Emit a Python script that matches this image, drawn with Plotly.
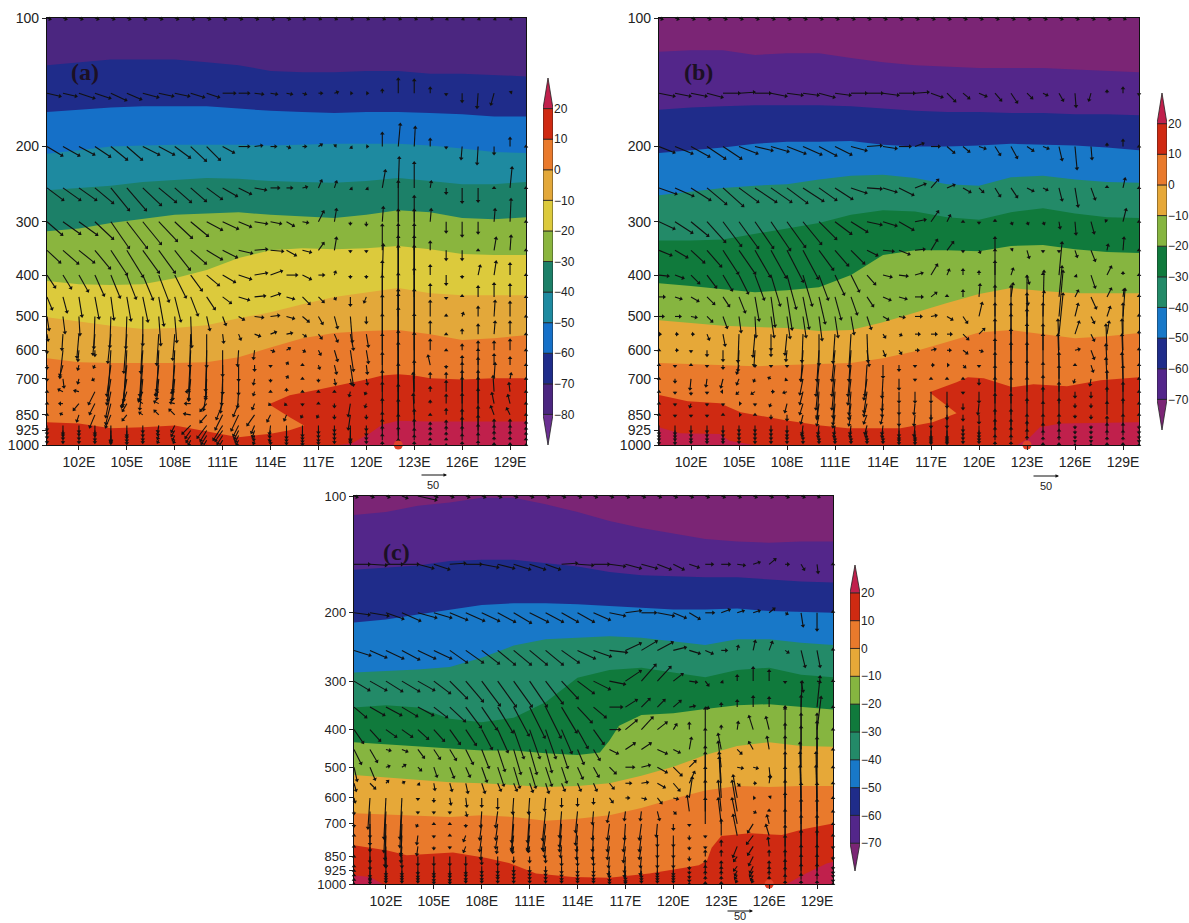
import math
import plotly.graph_objects as go

LEVELS = [100,150,200,250,300,350,400,450,500,550,600,650,700,750,800,850,900,925,950,975,1000]
COLS = list(range(100,131))
LON2 = [100,102,104,106,108,110,112,114,116,118,120,122,124,126,128,130]
XTICKS = [102,105,108,111,114,117,120,123,126,129]
YTICKS = [100,200,300,400,500,600,700,850,925,1000]

# ---- temperature band boundaries (hPa) ----
A_B = [
 (LON2,[129,127,125,125,125,127,129,133,134,134,133,133,135,135,136,137]),
 (LON2,[166,164,162,161,161,161,163,165,166,167,166,166,167,168,170,170]),
 (LON2,[208,204,200,199,198,198,198,199,198,197,197,197,199,202,206,207]),
 (LON2,[253,250,247,242,239,237,238,241,242,243,241,237,241,245,245,242]),
 (LON2,[316,311,302,296,289,287,285,289,291,294,289,282,285,294,296,293]),
 (LON2,[413,420,422,420,407,389,365,350,346,348,346,342,348,357,359,359]),
 (LON2,[502,513,526,535,532,524,505,489,468,450,439,429,441,446,446,446]),
 (LON2,[626,640,643,643,643,640,623,591,562,547,541,538,550,568,562,553]),
 ([100,102,104,106,108,110,112,114,115.2,116.1,115.2,113.9,115.2,117.1,118.9,120,121,122,123,124,126,128,130],
  [885,890,914,909,900,929,959,941,923,900,861,803,765,740,717,702,687,683,687,698,702,698,698]),
 ([118.3,119.1,120.2,121,122,124,126,128,130],[1000,990,940,895,877,881,881,881,881]),
]
B_B = [
 (LON2,[120,119,119,122,121,121,124,127,129,130,131,131,131,132,133,134]),
 (LON2,[164,162,161,160,160,160,161,163,165,166,166,167,167,168,168,169]),
 (LON2,[207,204,201,197,195,195,194,198,200,200,199,197,198,199,201,204]),
 (LON2,[260,255,250,247,245,239,234,233,237,245,247,236,234,239,242,243]),
 (LON2,[332,332,330,321,311,302,289,282,284,293,297,285,279,287,293,294]),
 (LON2,[418,424,432,439,434,427,400,359,350,350,352,342,340,348,353,355]),
 (LON2,[510,518,526,529,532,541,538,516,489,465,443,429,436,441,441,441]),
 (LON2,[643,647,650,654,650,647,643,626,603,574,545,538,550,562,556,547]),
 ([100,101.8,103.8,105.1,108,110.1,111.8,115.1,117.1,118.6,116.9,118.6,119.3,120.3,122.1,123.4,125.5,127.6,130],
  [764,790,798,838,876,900,914,914,885,843,752,713,694,698,732,721,728,705,694]),
 ([122.4,123.2,123.8,125.1,130],[1000,958,909,890,885]),
 ([100,101.3,103.8,104.4,105.9],[909,938,943,978,1000]),
]
C_B = [
 (LON2,[112,110,106,104,101,101,105,110,116,121,125,129,131,132,131,131]),
 (LON2,[155,153,151,147,146,146,149,152,157,160,161,162,162,164,166,167]),
 (LON2,[212,208,202,196,191,189,189,190,192,194,196,196,195,198,199,200]),
 (LON2,[285,283,280,276,261,243,234,232,230,232,237,242,234,234,239,242]),
 (LON2,[351,346,351,375,383,373,340,294,281,277,285,293,281,277,289,293]),
 ([100,102,104,106,108,110,112,114,115.4,116,116.6,118,120,122,124,126,128,130],
  [431,436,441,448,453,453,460,465,458,427,391,367,363,354,346,344,350,355]),
 (LON2,[524,532,541,547,550,556,562,559,550,526,499,465,441,431,441,443]),
 (LON2,[657,661,665,672,665,672,687,679,665,637,603,574,559,562,559,559]),
 ([100,102.1,103.3,105.2,106.2,108.3,109.8,111.4,113.7,116,118.5,120.6,121.6,122.1,122.4,123,124.8,126.8,128.2,130],
  [794,820,843,834,829,857,885,939,959,964,939,909,895,871,807,752,740,748,721,698]),
 ([127.1,128.3,129.6,130],[1000,939,885,876]),
 ([100,101,101.8],[949,959,1000]),
]
A_COL = ['#4b2680','#1f2c8a','#1570c8','#1e8aa0','#1c8068','#8ab53e','#dcca3c','#e3a83a','#e97a2c','#cf2a12','#c0204c']
BC_COL = ['#7b2575','#53268a','#1f2c8a','#1878c8','#238a68','#107a3c','#86b540','#e6a838','#e97a2c','#cf2a12','#c0204c','#c0204c']

# ---- wind vectors: units are 50/27 of the reference arrow's "50" ----
U_A = [
[3,3,3,3,3,3,3,3,3,3,3,3,3,3,3,3,2,2,2,2,2,2,2,2,2,1,1,1,1,1,1],
[13,13,15,15,15,14,15,14,14,13,12,12,10,8,6,5,3,3,3,1,1,0,0,0,0,0,0,-1,-3,1,1],
[15,16,15,15,16,15,16,15,15,15,13,11,10,7,5,3,3,3,1,1,1,0,2,1,0,0,-1,-1,0,0,0],
[16,17,17,18,18,19,18,17,16,15,15,14,12,11,8,5,4,3,2,1,1,3,1,0,1,0,0,0,0,2,0],
[15,17,18,18,18,20,18,18,17,17,15,15,12,12,10,7,5,5,2,0,0,1,0,0,1,0,0,0,1,1,0],
[13,15,15,15,16,16,16,16,15,15,15,14,13,12,12,9,8,5,2,0,0,0,0,0,0,0,0,0,2,1,0],
[8,8,9,9,9,9,10,10,11,11,12,12,12,12,11,10,8,5,1,0,0,1,0,0,0,0,0,2,2,0,0],
[5,4,3,4,3,4,5,5,6,7,8,8,10,10,9,7,7,5,1,0,-2,0,0,0,0,0,0,0,0,0,0],
[2,2,1,-1,-1,-1,0,2,2,1,3,3,5,8,8,7,6,4,3,2,0,0,0,0,0,0,1,0,1,0,0],
[1,-1,-2,-2,-3,-3,-2,-2,-2,-1,0,1,2,5,5,5,3,3,3,3,2,0,0,0,0,0,0,0,1,0,0],
[0,-3,-1,0,-3,-3,-3,-2,-2,-2,-1,0,-1,-1,3,3,2,2,3,3,2,0,0,0,0,0,0,0,0,0,0],
[0,-3,-1,-1,-4,-4,-3,-3,-3,-2,-1,0,0,0,0,1,0,1,2,3,1,0,0,0,-2,0,0,0,0,0,0],
[0,1,-1,-2,-4,-5,-3,-2,-2,-2,-1,-1,0,-1,0,1,0,0,1,1,1,0,0,0,0,0,0,0,1,1,0],
[0,-4,-4,-6,-5,-5,-4,-3,-3,-4,-3,-2,-1,-1,0,0,0,0,0,-1,-1,0,0,0,0,0,0,0,-1,-1,0],
[0,-3,-5,-5,-5,-4,-4,-4,-4,-5,-6,-6,-5,-2,-1,-1,0,0,0,-2,-1,0,0,-1,0,0,0,0,-2,-2,0],
[0,-2,-2,-5,-5,-4,-3,-4,-5,-6,-6,-7,-7,-7,-3,-2,-1,-1,0,-2,0,0,0,-1,0,0,0,0,-3,-3,0],
[0,0,0,0,0,0,0,-1,-3,-8,-9,-9,-5,-3,-1,0,0,0,0,0,0,0,0,0,0,0,0,0,0,0,0],
[0,0,0,0,0,0,0,-1,-3,-5,-6,-7,-4,-2,-1,0,0,0,0,0,0,0,0,0,0,0,0,0,0,0,0],
[0,0,0,0,0,0,0,-1,-2,-4,-5,-5,-3,-1,-1,0,0,0,0,0,0,0,0,0,0,0,0,0,0,0,0],
[0,0,0,0,0,0,0,-1,-1,-2,-3,-3,-2,-1,0,0,0,0,0,0,0,0,0,0,0,0,0,0,0,0,0],
[0,0,0,0,0,0,0,0,0,-1,-1,-1,-1,0,0,0,0,0,0,0,0,0,0,0,0,0,0,0,0,0,0],
]
W_A = [
[-1,-1,-1,-1,-1,-1,-1,-1,-1,-1,-1,-1,-1,-1,-1,-1,-1,-1,-1,-1,-1,-1,-1,-1,-1,-1,-1,-1,-1,-1,-1],
[-3,-3,-5,-5,-7,-6,-4,-3,-3,-4,-4,0,0,-1,-1,-1,-1,0,1,0,0,3,14,13,5,-1,-8,-14,-11,1,0],
[-9,-9,-8,-10,-13,-13,-8,-8,-11,-14,-13,-6,0,1,0,-1,0,2,1,-1,0,13,22,19,7,-1,-12,-17,-7,8,0],
[-12,-12,-12,-15,-22,-22,-17,-14,-14,-13,-11,-8,-6,-2,0,0,1,7,6,-1,-1,17,30,25,6,-5,-14,-13,0,20,0],
[-13,-12,-13,-17,-26,-26,-22,-19,-16,-14,-8,-7,-5,-2,-2,-4,-1,10,12,-2,-3,14,40,25,12,-10,-14,-11,12,22,0],
[-12,-13,-12,-18,-24,-26,-22,-22,-19,-13,-9,-7,-3,1,-1,-5,-2,7,12,-1,-1,25,40,40,8,-9,-9,0,12,14,0],
[-12,-13,-16,-20,-22,-23,-24,-26,-22,-15,-10,-7,-4,2,4,0,-4,0,3,-2,-2,30,50,50,9,-9,-2,9,13,11,0],
[-12,-15,-19,-21,-22,-23,-24,-28,-24,-18,-12,-6,-3,1,3,-2,-7,-5,-2,-8,-5,35,60,60,12,-1,1,10,13,12,0],
[-13,-16,-18,-31,-30,-31,-28,-28,-25,-30,-13,-8,-3,-1,1,-2,-5,-7,-11,-25,-6,40,70,70,15,1,3,9,15,14,0],
[-6,-15,-23,-20,-28,-38,-38,-30,-25,-32,-32,-8,-5,-2,2,1,-2,-4,-7,-15,-12,38,60,65,12,0,4,9,12,12,0],
[-2,-27,-10,-5,-50,-50,-45,-40,-40,-40,-40,-25,-15,-8,-1,2,-1,-4,-10,-20,-12,35,60,60,10,0,5,8,8,10,0],
[-3,-10,-4,-2,-30,-40,-35,-30,-35,-35,-32,-28,-15,-5,-1,2,0,-3,-8,-20,-8,30,70,50,9,-2,8,15,10,7,0],
[-1,-8,-4,-1,-25,-28,-30,-20,-20,-20,-20,-25,-15,-5,-2,2,0,-2,-5,-5,-5,25,70,45,5,5,15,20,15,5,0],
[0,2,1,-12,-25,-15,-8,-3,-1,0,-18,-20,-15,-3,0,2,0,0,0,-4,-2,20,60,30,4,10,20,20,15,8,0],
[0,0,-6,-10,-20,-7,3,2,1,0,-7,-15,-12,-5,-1,-1,-1,0,-3,-12,-3,20,60,30,2,8,25,25,10,8,0],
[0,1,-6,-12,-12,-5,2,4,5,1,-7,-14,-15,-10,-6,-5,-2,-2,-3,-14,-3,15,50,20,0,5,20,25,8,6,0],
[-4,-8,-6,-8,-16,-10,-6,-6,-6,-8,-12,-14,-10,-7,-8,-12,-10,-7,-5,-14,-4,12,40,15,2,4,15,18,5,5,3],
[-3,-5,-4,-5,-10,-7,-5,-4,-5,-7,-10,-10,-8,-6,-6,-10,-8,-6,-4,-10,-4,10,30,10,2,3,12,14,4,4,2],
[-2,-3,-3,-4,-6,-5,-4,-3,-4,-6,-8,-8,-6,-4,-5,-8,-6,-5,-3,-7,-3,8,20,6,2,2,8,10,3,3,2],
[-2,-2,-2,-2,-3,-3,-2,-2,-2,-4,-5,-5,-4,-3,-3,-5,-4,-3,-2,-5,-2,5,12,4,1,1,5,6,2,2,1],
[-1,-1,-1,-1,-1,-1,-1,-1,-1,-2,-2,-2,-2,-1,-1,-2,-2,-1,-1,-2,-1,2,5,2,0,0,2,3,1,1,0],
]
U_B = [
[3,3,3,3,3,3,3,3,3,3,3,3,3,3,3,3,3,3,3,3,3,3,3,3,3,3,3,3,3,2,2],
[15,15,15,15,16,15,15,15,15,15,15,15,15,15,15,15,13,11,8,6,7,6,6,5,4,4,1,-2,0,0,0],
[15,17,18,18,18,18,17,17,18,18,17,16,15,14,13,11,8,8,7,6,6,5,6,6,5,3,2,1,0,0,0],
[17,18,19,19,20,19,21,20,20,20,17,17,15,14,13,14,10,7,7,7,4,5,6,6,4,3,3,4,0,2,0],
[15,17,17,18,18,19,18,19,18,18,17,16,16,14,13,14,10,7,3,0,0,0,1,1,1,1,1,3,-1,3,0],
[12,12,13,14,15,16,15,15,16,15,14,13,13,10,10,10,9,6,6,0,1,0,1,2,0,0,2,4,1,1,0],
[9,8,8,9,9,9,9,9,9,9,9,9,8,8,8,8,7,6,2,0,0,0,2,2,0,3,1,4,4,0,0],
[5,6,7,7,6,6,4,4,5,6,6,6,6,6,7,7,7,5,0,0,1,0,2,1,1,3,3,5,4,1,0],
[4,5,5,5,4,2,1,3,3,3,3,3,3,4,5,5,6,5,5,4,3,0,0,0,1,4,3,3,3,2,0],
[1,2,2,2,2,-1,-2,0,-2,-1,0,-2,-2,1,2,2,4,5,4,5,5,0,0,0,0,4,4,3,2,0,0],
[0,2,0,0,0,-1,-1,0,-1,-2,-2,-3,-2,2,2,2,3,4,3,4,3,0,0,0,0,-1,4,3,-1,-1,0],
[0,0,0,0,0,-2,0,0,0,-2,-3,-3,-3,-2,0,0,0,2,1,2,0,0,0,0,0,-1,0,2,-1,-1,0],
[0,0,-1,-1,-2,-2,-1,-2,-1,-3,-3,-3,-3,-3,-1,0,0,0,0,0,0,0,0,0,0,0,-1,-1,-1,-1,0],
[0,0,0,0,-1,-2,-3,2,-3,-3,-2,-2,-2,-3,-1,0,0,0,0,0,0,0,0,0,0,0,0,0,0,0,0],
[0,0,-1,0,0,1,0,-1,-2,-3,-2,-2,-2,-3,-1,0,-1,0,0,0,-1,0,0,0,0,0,0,0,0,0,0],
[0,0,0,0,0,1,0,0,0,-2,-2,-2,-2,-3,-2,0,-1,0,0,0,0,0,0,0,0,0,0,0,0,0,0],
[0,0,0,0,0,0,0,0,0,-1,-1,-1,-1,-2,-1,0,-1,0,0,0,0,0,0,0,0,0,0,0,0,0,0],
[0,0,0,0,0,0,0,0,0,-1,-1,-1,-1,-1,-1,0,0,0,0,0,0,0,0,0,0,0,0,0,0,0,0],
[0,0,0,0,0,0,0,0,0,0,0,0,0,0,0,0,0,0,0,0,0,0,0,0,0,0,0,0,0,0,0],
[0,0,0,0,0,0,0,0,0,0,0,0,0,0,0,0,0,0,0,0,0,0,0,0,0,0,0,0,0,0,0],
[0,0,0,0,0,0,0,0,0,0,0,0,0,0,0,0,0,0,0,0,0,0,0,0,0,0,0,0,0,0,0],
]
W_B = [
[-1,-1,-1,-1,-1,-1,-1,-1,-1,-1,-1,-1,-1,-1,-1,-1,-1,-1,-1,-1,-1,-1,-1,-1,-1,-1,-1,-1,-1,-1,-1],
[-3,-3,-3,-4,0,1,0,-3,-2,-2,-4,-2,0,0,-2,0,1,-4,-8,-5,-3,-7,-9,-5,-2,-7,-13,-7,2,5,-1],
[-6,-7,-10,-12,-12,-7,-4,-5,-7,-8,-9,-8,-4,1,-2,0,3,0,-6,-5,-2,-8,-11,-4,-2,-13,-22,-12,2,6,0],
[-6,-8,-12,-16,-18,-14,-14,-14,-15,-13,-12,-11,-5,-1,-4,-7,4,8,3,-4,-4,-8,-9,-3,-2,-12,-18,-11,1,9,0],
[-7,-11,-14,-20,-24,-26,-26,-28,-25,-22,-17,-12,-10,-3,-4,-8,2,10,6,0,-1,1,-2,-2,-2,-6,-12,-11,1,12,0],
[-5,-7,-12,-16,-23,-23,-26,-27,-31,-28,-19,-15,-13,-5,-1,-4,1,10,8,-1,-2,0,1,-7,-1,-1,-6,-10,5,12,0],
[-1,-3,-8,-12,-15,-18,-24,-30,-33,-30,-24,-19,-16,-9,-2,-1,2,10,5,5,3,37,6,-8,1,32,-1,-12,8,2,0],
[0,-2,-4,-7,-9,-15,-23,-29,-32,-31,-26,-22,-17,-9,-3,-2,0,4,1,6,12,35,13,-7,5,30,6,-11,8,7,1],
[0,0,-1,-5,-11,-15,-20,-20,-21,-20,-23,-20,-17,-12,-3,-1,0,1,-3,-6,13,30,30,40,45,45,12,-6,9,27,1],
[0,0,0,-5,-11,-27,-22,-15,-20,-27,-30,-28,-32,-27,-3,-1,0,0,0,-5,5,30,30,40,30,40,12,-6,12,30,2],
[0,0,-1,-5,-10,-20,-15,-5,-10,-30,-30,-30,-30,-15,-5,-3,0,1,0,-3,-1,30,35,40,25,30,1,-8,25,30,1],
[0,-1,0,-1,-3,-8,-1,-1,-1,-15,-30,-30,-30,-30,-12,-5,-1,0,0,-2,-1,25,35,40,30,30,0,-6,20,30,0],
[0,-3,-10,-7,-8,-5,-2,1,-1,-15,-30,-30,-25,-20,-18,-10,-1,0,0,0,-5,25,35,35,15,25,-3,-6,20,25,0],
[0,-1,-2,-1,0,-2,-2,0,-1,-12,-25,-25,-22,-20,-18,-10,-10,-10,-15,-1,-10,25,30,30,15,25,-5,-5,20,25,0],
[0,-1,-3,-1,-1,0,-1,-2,-8,-10,-15,-20,-15,-12,-12,-10,-10,-15,-15,-5,-10,25,25,25,15,20,-3,-3,15,20,0],
[0,-1,-1,-1,0,0,0,-3,-5,-8,-10,-12,-10,-8,-8,-10,-10,-12,-12,-5,-8,20,20,15,12,15,-2,-3,12,15,0],
[-8,-8,-6,-6,-6,-5,-5,-5,-6,-8,-8,-8,-8,-8,-8,-10,-10,-12,-12,-5,-8,15,15,10,10,10,-2,-2,8,10,-2],
[-6,-6,-5,-5,-5,-4,-4,-4,-5,-5,-6,-6,-6,-6,-6,-8,-8,-9,-9,-4,-6,10,10,8,6,8,-2,-2,6,6,-2],
[-4,-4,-4,-4,-4,-3,-3,-3,-3,-3,-4,-4,-4,-4,-4,-5,-5,-6,-6,-3,-4,7,7,5,4,5,-2,-2,4,4,-2],
[-3,-3,-2,-2,-2,-2,-2,-2,-2,-2,-2,-2,-2,-2,-2,-3,-3,-3,-3,-2,-2,4,4,3,2,3,-1,-1,2,2,-1],
[-1,-1,-1,-1,-1,-1,-1,-1,-1,-1,-1,-1,-1,-1,-1,-1,-1,-1,-1,-1,-1,2,2,1,1,1,0,0,1,1,0],
]
U_C = [
[3,3,3,5,18,3,3,3,3,3,3,3,3,3,3,3,3,3,3,3,3,3,3,3,3,3,3,3,3,2,2],
[15,16,16,16,15,15,15,15,16,16,16,15,14,15,15,15,15,15,15,13,10,9,7,8,7,6,6,3,3,1,0],
[15,18,17,18,18,17,17,18,17,17,17,18,17,16,16,16,15,15,14,16,12,10,8,8,6,6,5,2,2,0,0],
[16,16,17,17,17,17,17,17,17,17,17,17,17,17,17,17,17,15,15,15,12,10,7,5,1,2,3,3,4,3,0],
[15,16,16,17,16,16,17,17,18,18,18,17,17,16,16,16,15,15,14,13,9,7,3,1,0,0,0,0,2,3,0],
[12,14,15,15,15,13,15,15,15,15,15,15,15,15,14,12,12,11,8,7,7,5,3,0,0,0,0,0,1,3,0],
[9,10,10,10,10,10,10,10,10,10,10,10,10,10,10,10,10,11,11,9,3,0,0,0,1,-4,-3,0,0,4,0],
[7,7,4,5,6,6,6,7,7,7,7,7,6,6,6,6,8,9,9,9,6,2,0,-3,4,-4,-2,0,0,0,0],
[3,5,3,3,3,3,4,4,5,6,6,6,6,5,5,5,6,8,8,9,8,6,0,-3,5,4,1,0,0,0,0],
[2,5,2,2,1,1,2,2,3,3,3,3,3,3,3,3,4,5,6,7,6,5,0,-2,2,2,1,0,-1,0,0],
[1,-2,-2,-2,0,0,1,1,0,0,-1,-1,-1,0,0,0,3,3,4,4,4,3,0,-2,-4,1,1,0,-1,-1,0],
[0,0,-2,-2,0,0,0,1,-1,-2,-2,-2,-3,-2,-2,-1,-2,-1,-1,2,2,-2,0,-3,-5,2,0,0,-1,-1,0],
[0,0,-1,-1,-1,0,0,0,-2,-2,-2,-2,-3,-2,-2,-1,-2,-1,-2,-1,0,0,0,-3,-5,-5,-2,0,0,0,0],
[0,0,-1,-1,-1,0,0,-2,-2,-2,-2,-2,-2,-2,-1,-1,-2,-2,-2,0,0,0,0,0,-4,-6,-3,0,0,0,0],
[0,0,0,-1,-1,0,0,-2,-1,-1,-1,-1,-1,-1,-1,-1,-2,-2,-2,0,0,0,0,0,-4,-5,-1,0,0,0,0],
[0,0,0,0,0,0,0,0,0,0,0,0,0,0,0,0,-1,-1,-1,0,0,0,0,0,-3,-4,0,0,0,0,0],
[0,0,0,0,0,0,0,0,0,0,0,0,0,0,0,0,-1,-1,-1,0,0,0,0,0,-3,-3,0,0,0,0,0],
[0,0,0,0,0,0,0,0,0,0,0,0,0,0,0,0,0,0,0,0,0,0,0,0,-2,-3,0,0,0,0,0],
[0,0,0,0,0,0,0,0,0,0,0,0,0,0,0,0,0,0,0,0,0,0,0,0,-2,-2,0,0,0,0,0],
[0,0,0,0,0,0,0,0,0,0,0,0,0,0,0,0,0,0,0,0,0,0,0,0,-1,-1,0,0,0,0,0],
[0,0,0,0,0,0,0,0,0,0,0,0,0,0,0,0,0,0,0,0,0,0,0,0,0,0,0,0,0,0,0],
]
W_C = [
[-1,-1,-1,-2,-4,-1,-1,-1,-1,-1,-1,-1,-1,-1,-1,-1,-1,-1,-1,-1,-1,-1,-1,-1,-1,-1,-1,-1,-1,-1,-1],
[0,-1,0,0,-4,-5,1,0,-3,-4,-5,-5,-5,1,-1,0,-2,-4,-4,-5,-5,-3,0,0,-1,2,5,0,-5,-8,0],
[-2,-3,-6,-8,-5,-5,-7,-8,-8,-9,-10,-9,-9,-9,-9,-7,-3,2,0,-3,-5,-6,0,3,2,2,4,-1,-13,-17,1],
[-5,-7,-8,-9,-8,-8,-12,-12,-13,-14,-14,-14,-14,-12,-8,-6,-2,7,9,8,3,-3,-3,0,4,9,8,-2,-16,-16,1],
[-9,-9,-10,-10,-9,-12,-17,-20,-24,-25,-25,-25,-22,-17,-12,-8,-3,10,16,14,7,-1,-4,-1,5,13,10,-1,-10,-1,0],
[-10,-8,-8,-9,-8,-10,-14,-20,-22,-25,-28,-30,-30,-25,-15,-10,0,7,8,7,6,1,-1,3,6,10,9,0,25,30,0],
[-13,-11,-7,-7,-9,-11,-14,-15,-19,-22,-28,-28,-28,-23,-18,-14,0,9,12,7,5,6,21,3,7,13,12,21,33,32,0],
[-14,-12,-1,-2,-8,-9,-10,-14,-18,-21,-24,-24,-22,-18,-14,-10,-4,6,6,-4,-3,11,20,15,-4,7,12,25,35,35,0],
[-13,-12,1,2,-3,-9,-10,-9,-14,-18,-20,-20,-18,-15,-11,-9,-6,0,2,-5,-8,6,20,25,-1,-1,-10,30,40,45,0],
[-7,-5,2,1,-1,-6,-7,-9,-9,-7,-7,-8,-9,-7,-7,-7,-5,0,1,-4,-7,11,30,30,-2,0,7,30,40,45,0],
[-4,-30,-40,-40,-1,-3,-6,-8,-8,-10,-15,-15,-12,-8,-7,-5,-4,0,-1,-5,-1,20,30,40,22,0,1,30,45,45,0],
[-2,-25,-40,-35,-1,-1,-1,-4,-15,-15,-30,-30,-28,-25,-20,-12,-10,-8,-8,-8,-2,15,30,30,30,-1,1,30,45,45,0],
[-2,-20,-35,-30,-2,0,0,-2,-15,-15,-25,-25,-25,-22,-20,-15,-15,-15,-15,-12,-5,-1,25,25,25,-8,8,30,40,40,0],
[0,-15,-30,-20,-8,-1,0,-5,-15,-12,-15,-15,-15,-15,-15,-15,-15,-15,-15,-10,-10,-3,-1,15,20,-8,10,25,35,35,0],
[0,-15,-20,-15,-8,-2,-1,-5,-12,-6,-6,-5,-10,-10,-12,-12,-12,-15,-12,-10,-10,-2,-1,5,-10,-8,8,20,30,30,-1],
[0,-12,-10,-10,-8,-8,-8,-8,-7,-8,-5,-5,-5,-8,-8,-8,-10,-15,-10,-10,-10,-3,5,5,-4,-8,5,20,25,25,-2],
[0,-10,-8,-8,-7,-8,-8,-7,-6,-6,-5,-5,-5,-6,-6,-6,-8,-10,-8,-8,-8,-2,5,4,-4,-6,4,15,20,20,-2],
[0,-8,-6,-6,-6,-6,-6,-5,-5,-5,-4,-4,-4,-5,-5,-5,-6,-8,-6,-6,-6,-2,4,3,-4,-5,3,10,15,15,-2],
[0,-5,-4,-4,-4,-5,-5,-4,-4,-3,-3,-3,-3,-4,-4,-4,-5,-6,-4,-4,-4,-2,3,3,-3,-4,3,7,10,10,-1],
[0,-3,-2,-2,-2,-3,-3,-2,-2,-2,-2,-2,-2,-2,-2,-2,-3,-3,-2,-2,-2,-1,2,2,-2,-2,2,4,5,5,-1],
[0,-1,-1,-1,-1,-1,-1,-1,-1,-1,-1,-1,-1,-1,-1,-1,-1,-1,-1,-1,-1,0,1,1,-1,-1,1,2,2,2,0],
]
STORM_LON = [122,123,126]
CB_LEVELS_A = [-90,-80,-70,-60,-50,-40,-30,-20,-10,0,10,20,30]
CB_LEVELS_BC = [-80,-70,-60,-50,-40,-30,-20,-10,0,10,20,30]
CB_COL_A = ['#6b2f92','#4b2680','#1f2c8a','#1570c8','#1e8aa0','#1c8068','#8ab53e','#dcca3c','#e3a83a','#e97a2c','#cf2a12','#c0204c']
CB_COL_BC = ['#7b2575','#53268a','#1f2c8a','#1878c8','#238a68','#107a3c','#86b540','#e6a838','#e97a2c','#cf2a12','#c0204c']
MARK_LON = [[113.6,125.7],[113.8,125.7],[110.7,122.8]]

W, H, OFF = 1189, 923, 0
def fx(px): return (px-OFF)/W
def fy(py): return 1-(py-OFF)/H

PANELS = [
 dict(name='(a)',box=(47,526,18,445),bnd=A_B,col=A_COL,U=U_A,V=W_A,cb=(543,553,78,445),lv=CB_LEVELS_A,cc=CB_COL_A,
      tag=(85,72),ref=(447,475),rt=(433,485),ysize=14),
 dict(name='(b)',box=(659,1139,18,445),bnd=B_B,col=BC_COL,U=U_B,V=W_B,cb=(1157,1167,93,430),lv=CB_LEVELS_BC,cc=CB_COL_BC,
      tag=(698,72),ref=(1059,476),rt=(1046,486),ysize=14),
 dict(name='(c)',box=(354,833,496,884),bnd=C_B,col=BC_COL,U=U_C,V=W_C,cb=(850,860,565,871),lv=CB_LEVELS_BC,cc=CB_COL_BC,
      tag=(396,552),ref=(753,911),rt=(740,916),ysize=13),
]
TXT = '#222222'
FONT = 'Liberation Sans'
fig = go.Figure()
layout = dict(width=W,height=H,autosize=False,margin=dict(l=0,r=0,t=0,b=0,autoexpand=False),
              paper_bgcolor='white',plot_bgcolor='white',showlegend=False,annotations=[])
n = 0
for k,P in enumerate(PANELS):
    l,r,t,b = P['box']
    n += 1
    xa,ya = f'x{n}' if n>1 else 'x', f'y{n}' if n>1 else 'y'
    layout['xaxis'+(str(n) if n>1 else '')] = dict(domain=[fx(l),fx(r)],range=[100,130],anchor=ya,
        tickvals=XTICKS,ticktext=[f'{v}E' for v in XTICKS],ticks='outside',ticklen=4,tickwidth=1,tickcolor='#222',
        showgrid=False,zeroline=False,showline=True,linecolor='#111',linewidth=1.4,mirror=True,
        tickfont=dict(family=FONT,size=14,color=TXT))
    layout['yaxis'+(str(n) if n>1 else '')] = dict(domain=[fy(b),fy(t)],type='log',range=[3,2],anchor=xa,
        tickvals=YTICKS,ticktext=[str(v) for v in YTICKS],ticks='outside',ticklen=4,tickwidth=1,tickcolor='#222',
        showgrid=False,zeroline=False,showline=True,linecolor='#111',linewidth=1.4,mirror=True,
        tickfont=dict(family=FONT,size=P['ysize'],color=TXT))
    def poly(x,y,c):
        fig.add_trace(go.Scatter(x=x,y=y,mode='lines',fill='toself',fillcolor=c,line=dict(width=0,color=c),
                                 xaxis=xa,yaxis=ya,hoverinfo='skip'))
    poly([100,130,130,100],[100,100,1000,1000],P['col'][0])
    for i,(lo,pr) in enumerate(P['bnd']):
        poly(list(lo)+[lo[-1],lo[0]],list(pr)+[1000,1000],P['col'][i+1])
    # quiver
    hgt = b-t
    sx,sy,hx,hp,ang = [],[],[],[],[]
    for j,lev in enumerate(LEVELS):
        for c,(uu,vv) in enumerate(zip(P['U'][j],P['V'][j])):
            lon = COLS[c]
            hl = lon+uu/16.0
            hq = lev*10**(-vv/hgt)
            sx += [lon,hl,None]; sy += [lev,hq,None]
            hx.append(hl); hp.append(hq)
            ang.append(math.degrees(math.atan2(uu,vv)))
    fig.add_trace(go.Scatter(x=sx,y=sy,mode='lines',line=dict(color='#111',width=1.1),xaxis=xa,yaxis=ya,
                             hoverinfo='skip',cliponaxis=False))
    fig.add_trace(go.Scatter(x=hx,y=hp,mode='markers',marker=dict(symbol='triangle-up',size=4,color='#111',angle=ang,line=dict(width=0)),
                             xaxis=xa,yaxis=ya,hoverinfo='skip',cliponaxis=False))
    fig.add_trace(go.Scatter(x=[STORM_LON[k]],y=[1000],mode='markers',marker=dict(size=9,color='#e0432a'),
                             xaxis=xa,yaxis=ya,hoverinfo='skip',cliponaxis=False))
    fig.add_trace(go.Scatter(x=MARK_LON[k],y=[96,95.5],mode='markers',marker=dict(size=2,color='#333'),
                             xaxis=xa,yaxis=ya,hoverinfo='skip',cliponaxis=False))
    # colour bar
    n += 1
    xa2,ya2 = f'x{n}',f'y{n}'
    cl,cr,ct,cb = P['cb']
    lv = P['lv']
    layout[f'xaxis{n}'] = dict(domain=[fx(cl),fx(cr)],range=[0,1],anchor=ya2,visible=False)
    layout[f'yaxis{n}'] = dict(domain=[fy(cb),fy(ct)],range=[lv[0],lv[-1]],anchor=xa2,side='right',
        tickvals=lv[1:-1],showgrid=False,zeroline=False,showline=False,ticks='',
        tickfont=dict(family=FONT,size=12,color=TXT))
    for i,c in enumerate(P['cc']):
        lo,hi = lv[i],lv[i+1]
        if i==0: x,y = [0,1,0.5,0],[hi,hi,lo,hi]
        elif i==len(P['cc'])-1: x,y = [0,1,0.5,0],[lo,lo,hi,lo]
        else: x,y = [0,1,1,0,0],[lo,lo,hi,hi,lo]
        fig.add_trace(go.Scatter(x=x,y=y,mode='lines',fill='toself',fillcolor=c,line=dict(width=0.8,color='#222'),
                                 xaxis=xa2,yaxis=ya2,hoverinfo='skip'))
    # texts
    tx,ty = P['tag']
    layout['annotations'].append(dict(text=f"<b>{P['name']}</b>",x=fx(tx),y=fy(ty),xref='paper',yref='paper',showarrow=False,
        xanchor='center',yanchor='middle',font=dict(family='Liberation Serif',size=24,color='#1c1024')))
    rx,ry = P['ref']
    layout['annotations'].append(dict(text='',x=fx(rx),y=fy(ry),xref='paper',yref='paper',axref='pixel',ayref='pixel',
        ax=-27,ay=0,showarrow=True,arrowhead=2,arrowsize=0.7,arrowwidth=1,arrowcolor='#111'))
    qx,qy = P['rt']
    layout['annotations'].append(dict(text='50',x=fx(qx),y=fy(qy),xref='paper',yref='paper',showarrow=False,
        xanchor='center',yanchor='middle',font=dict(family=FONT,size=11,color=TXT)))
fig.update_layout(**layout)
fig.write_html("out.html", config={'displayModeBar':False},
               post_script="document.body.style.margin='0';document.body.style.overflow='hidden';")
